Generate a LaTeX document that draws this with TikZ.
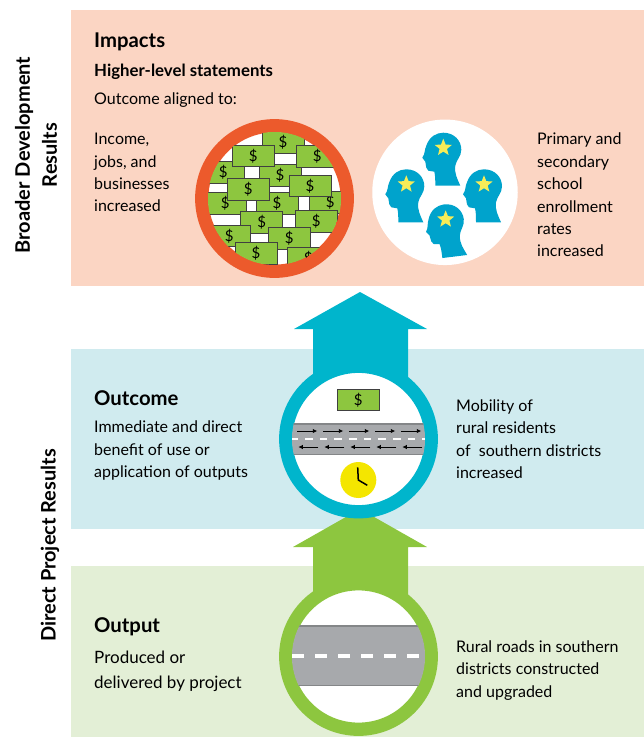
\documentclass[tikz,border=0pt]{standalone}
\usepackage{fontspec}
\setmainfont{Lato}
\usetikzlibrary{shapes.geometric,arrows.meta}
\definecolor{peach}{HTML}{FBD5C3}
\definecolor{paleblue}{HTML}{D0EBEF}
\definecolor{palegreen}{HTML}{E3EFD6}
\definecolor{ringred}{HTML}{EC5A2C}
\definecolor{ringteal}{HTML}{00B5CC}
\definecolor{ringgreen}{HTML}{8DC63F}
\definecolor{headblue}{HTML}{00A3CC}
\definecolor{starfill}{HTML}{F7EC57}
\definecolor{roadgray}{HTML}{A7A9AC}
\definecolor{roadedge}{HTML}{848688}
\definecolor{clockface}{HTML}{F4E600}
\tikzset{%
	head/.pic={%
		\fill [headblue] (0,25) .. controls (3,21) and (2,17) .. (4,13) .. controls (7,4) and (14,0) .. (21,0) .. controls (32,0) and (39,8) .. (39,17) .. controls (39,24) and (34,27) .. (33,33) .. controls (32,41) and (35,46) .. (38,53) -- (13,53) .. controls (13,47) and (13,43) .. (12,39) -- (6,38) -- (4,35) -- (3,29) -- cycle;
		\node [star, star points=5, star point ratio=2.3, fill=starfill, inner sep=0pt, minimum size=18pt] at (21,15) {};
	}
}

\begin{document}
\begin{tikzpicture}[x=1pt,y=-1pt,
	body/.style={anchor=north west,inner sep=0pt,align=left,font=\fontsize{16}{22.4}\selectfont},
	title/.style={anchor=west,inner sep=0pt,font=\fontsize{20.3}{22}\selectfont\bfseries},
	side/.style={rotate=90,inner sep=0pt,align=center,font=\fontsize{20}{27}\selectfont\bfseries},
	ring/.style={circle,fill=white,draw=#1,line width=13.3pt,minimum size=145.5pt,inner sep=0pt},
	bill/.style={draw=black!75,fill=ringgreen,line width=0.9pt,minimum width=42pt,minimum height=21.7pt,inner sep=0pt,font=\fontsize{15}{15}\selectfont,name=#1},
	lane/.style={line width=1pt,-{Latex[length=4.5pt,width=4.5pt]}}]
	\useasboundingbox (0,0) rectangle (644,737);
	% bands
	\fill [peach] (71,10) rectangle (644,286);
	\fill [paleblue] (71,349) rectangle (644,529);
	\fill [palegreen] (71,566) rectangle (644,737);
	% arrows
	\fill [ringgreen] (360,509) -- (427,547) -- (408,547) -- (408,620) -- (313,620) -- (313,547) -- (293,547) -- cycle;
	\fill [ringteal] (360,292) -- (427,329) -- (408,329) -- (408,400) -- (313,400) -- (313,329) -- (294,329) -- cycle;
	% impacts
	\node [ring=ringred] (money) at (274.5,198.5) {};
	\begin{scope}
		\clip (money.center) circle [radius=66.5];
		\foreach \name/\xpos/\ypos in {a/283/142.7,d/223.3/172.7,e/280/175.7,h/225.3/203.3,i/277/203.3,j/330.3/202.7,b/253.3/156,c/317.3/156.7,k/261.7/222.7,l/316.3/221.7,m/229.3/236,n/289.3/238.7,o/256/253.3,p/308.3/258,f/248.3/189.3,g/310/186}{
			\node [bill=\name] at (\xpos,\ypos) {\$};
		}
	\end{scope}
	\node [circle,fill=white,minimum size=145.5pt,inner sep=0pt] (brains) at (445,192.3) {};
	\pic at (422.3,132.7) {head};
	\pic at (385.3,169.3) {head};
	\pic at (463,169.3) {head};
	\pic [rotate=7] at (423,207) {head};
	% outcome
	\node [ring=ringteal] (benefit) at (358.5,439) {};
	\begin{scope}
		\clip (benefit.center) circle [radius=66.5];
		\fill [roadgray] (290,422.7) rectangle (428,455);
		\fill [roadedge] (290,422.7) rectangle (428,425);
		\fill [roadedge] (290,453.5) rectangle (428,455);
		\foreach \xpos in {0,...,9}{
			\fill [white] (290.3+14.67*\xpos,437.5) rectangle +(7.7,2.6);
		}
		\foreach \xpos in {0,...,4}{
			\draw [lane] (297.3+26*\xpos,431) -- +(20,0);
			\draw [lane] (318.3+26*\xpos,447) -- +(-20,0);
		}
	\end{scope}
	\node [bill=cash] at (358.2,400) {\$};
	\node [circle,fill=clockface,minimum size=36pt,inner sep=0pt] (clock) at (358.3,480) {};
	\draw [line width=1.5pt] (357.7,467.3) -- (clock.center) -- (367.3,485.3);
	% output
	\node [ring=ringgreen] (build) at (358.5,656.5) {};
	\begin{scope}
		\clip (build.center) circle [radius=66.5];
		\fill [roadgray] (290,625) rectangle (428,686);
		\fill [roadedge] (290,625) rectangle (428,627);
		\fill [roadedge] (290,684.5) rectangle (428,686);
		\foreach \xpos in {0,...,5}{
			\fill [white] (292.3+23*\xpos,653.5) rectangle +(12,4);
		}
	\end{scope}
	% texts
	\node [side] (broader) at (36,155) {Broader Development\\Results};
	\node [side] (direct) at (50,545.5) {Direct Project Results};
	\node [title] (impacts) at (94,42) {Impacts};
	\node [title,font=\fontsize{16.8}{20}\selectfont\bfseries] (higher) at (94,71.5) {Higher-level statements};
	\node [body,anchor=west] (aligned) at (94,100.5) {Outcome aligned to:};
	\node [body] (income) at (94,133) {Income,\\jobs, and\\businesses\\increased};
	\node [body] (primary) at (537,133) {Primary and\\secondary\\school\\enrollment\\rates\\increased};
	\node [title] (outcome) at (94,398) {Outcome};
	\node [body] (immediate) at (94,421) {Immediate and direct\\benefit of use or\\application of outputs};
	\node [body] (mobility) at (456,399.5) {Mobility of\\rural residents\\of\ \ southern districts\\increased};
	\node [title] (output) at (94,627) {Output};
	\node [body,font=\fontsize{17}{25}\selectfont] (produced) at (94,651) {Produced or\\delivered by project};
	\node [body] (rural) at (456,640.5) {Rural roads in southern\\districts constructed\\and upgraded};
\end{tikzpicture}
\end{document}
